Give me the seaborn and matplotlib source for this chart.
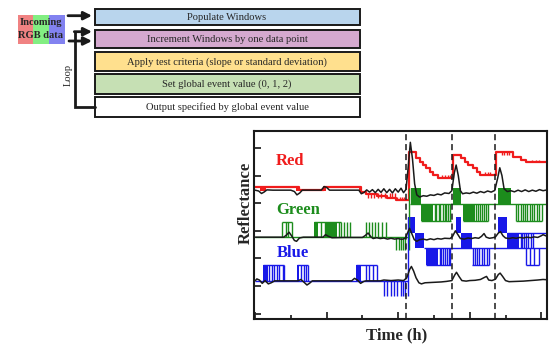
import matplotlib
matplotlib.use('Agg')
import matplotlib.pyplot as plt
from matplotlib.patches import Rectangle
import seaborn as sns
import pandas as pd

sns.set_theme(style='ticks')
plt.rcParams['font.family'] = ['Liberation Serif', 'DejaVu Serif']

RED = '#f01c1c'
GREEN = '#1c8c1c'
BLUE = '#1818e8'

# ---- flowchart text ----
steps = ['Populate Windows',
         'Increment Windows by one data point',
         'Apply test criteria (slope or standard deviation)',
         'Set global event value (0, 1, 2)',
         'Output specified by global event value']
step_colors = ['#b9d5ed', '#d5a9cf', '#ffe08e', '#c6e0b4', '#ffffff']
rgb_colors = ['#f08282', '#82ee82', '#8282f0']

# ---- chart data (time in h, reflectance offset units) ----
event_times = [4.22, 5.50, 6.71]

top_t = [0.0, 0.1, 0.18, 0.25, 0.33, 0.5, 1.0, 1.1, 1.17, 1.25, 1.32, 1.85, 1.93, 2.0, 2.08,
         2.9, 2.97, 3.05, 3.12, 3.2, 3.28, 3.36, 3.44, 3.52, 3.6, 3.68, 3.76, 3.84, 3.92, 4.0,
         4.08, 4.15, 4.22, 4.28, 4.34, 4.4, 4.46, 4.52, 4.6, 4.7, 4.8, 4.9, 5.0, 5.1, 5.2,
         5.3, 5.42, 5.5, 5.57, 5.62, 5.68, 5.74, 5.8, 5.9, 6.0, 6.1, 6.2, 6.3, 6.4, 6.5, 6.6,
         6.7, 6.78, 6.84, 6.9, 6.96, 7.05, 7.15, 7.25, 7.35, 7.45, 7.55, 7.65, 7.75, 7.85,
         7.95, 8.05, 8.16]
top_y = [4.47, 4.44, 4.35, 4.4, 4.48, 4.47, 4.47, 4.42, 4.3, 4.37, 4.47, 4.47, 4.6, 4.57, 4.47,
         4.47, 4.34, 4.39, 4.48, 4.4, 4.49, 4.38, 4.5, 4.39, 4.52, 4.38, 4.5, 4.37, 4.52, 4.4,
         4.54, 4.38, 4.5, 5.3, 6.2, 5.6, 4.7, 4.3, 4.22, 4.27, 4.25, 4.3, 4.28, 4.33, 4.3,
         4.37, 4.35, 4.45, 5.1, 5.38, 5.0, 4.45, 4.34, 4.37, 4.35, 4.4, 4.36, 4.42, 4.38,
         4.44, 4.4, 4.46, 4.9, 5.28, 5.0, 4.52, 4.42, 4.45, 4.41, 4.47, 4.42, 4.48, 4.42,
         4.47, 4.43, 4.49, 4.45, 4.48]

mid_t = [0.0, 0.8, 0.88, 0.95, 1.02, 1.1, 1.16, 1.24, 1.35, 1.9, 1.97, 2.05, 2.15, 2.5, 3.0,
         3.08, 3.16, 3.24, 3.3, 3.4, 3.5, 3.6, 3.7, 3.8, 3.9, 4.0, 4.1, 4.2, 4.26, 4.32, 4.38,
         4.45, 4.52, 4.6, 4.7, 4.8, 4.9, 5.0, 5.1, 5.2, 5.3, 5.45, 5.52, 5.6, 5.66, 5.74, 5.85,
         5.95, 6.05, 6.15, 6.25, 6.33, 6.4, 6.46, 6.55, 6.65, 6.72, 6.8, 6.86, 6.93, 7.0, 7.1,
         7.2, 7.3, 7.4, 7.5, 7.6, 7.7, 7.8, 7.9, 8.0, 8.05, 8.16]
mid_y = [2.77, 2.77, 2.85, 2.95, 2.82, 2.65, 2.62, 2.74, 2.77, 2.77, 2.86, 2.8, 2.75, 2.76, 2.76,
         2.83, 2.92, 2.78, 2.72, 2.75, 2.72, 2.74, 2.7, 2.73, 2.7, 2.72, 2.69, 2.73, 2.92, 3.09,
         2.9, 2.68, 2.62, 2.68, 2.7, 2.67, 2.71, 2.68, 2.72, 2.7, 2.73, 2.72, 2.8, 3.0, 2.88,
         2.72, 2.7, 2.74, 2.72, 2.75, 2.73, 2.8, 2.9, 2.77, 2.73, 2.75, 2.78, 2.92, 2.97, 2.82,
         2.74, 2.72, 2.75, 2.73, 2.76, 2.74, 2.77, 2.75, 2.78, 2.76, 2.82, 2.86, 2.8]

low_t = [0.0, 0.05, 0.12, 0.2, 0.28, 0.37, 0.45, 0.55, 1.2, 1.28, 1.36, 1.45, 1.52, 1.6, 2.7,
         2.78, 2.86, 2.95, 3.04, 3.1, 3.5, 3.6, 3.8, 4.0, 4.15, 4.24, 4.32, 4.37, 4.43, 4.5,
         4.58, 4.65, 4.75, 4.9, 5.05, 5.2, 5.35, 5.5, 5.58, 5.63, 5.7, 5.78, 5.9, 6.0, 6.15,
         6.3, 6.42, 6.47, 6.53, 6.62, 6.72, 6.8, 6.85, 6.92, 7.0, 7.1, 7.3, 7.5, 7.7, 7.9,
         8.05, 8.16]
low_y = [1.19, 1.26, 1.22, 1.1, 1.2, 1.08, 1.12, 1.19, 1.19, 1.24, 1.15, 1.04, 1.1, 1.19, 1.19,
         1.28, 1.22, 1.1, 1.17, 1.19, 1.19, 1.22, 1.2, 1.22, 1.2, 1.3, 1.6, 1.71, 1.55, 1.3,
         1.12, 1.08, 1.12, 1.13, 1.14, 1.15, 1.17, 1.2, 1.4, 1.5, 1.35, 1.2, 1.18, 1.2, 1.21,
         1.24, 1.32, 1.35, 1.22, 1.2, 1.25, 1.42, 1.47, 1.35, 1.2, 1.16, 1.17, 1.18, 1.2, 1.22,
         1.24, 1.23]

# red event signal (step values)
red_t = [-0.05, 1.22, 1.92, 2.97, 3.1, 3.4, 3.7, 3.95, 4.3, 4.51, 4.6, 4.7, 4.79, 4.88, 4.98,
         5.12, 5.53, 5.77, 5.86, 5.95, 6.09, 6.19, 6.28, 6.74, 7.21, 7.44, 7.58, 7.67, 8.2]
red_y = [4.6, 4.47, 4.6, 4.42, 4.33, 4.27, 4.2, 4.12, 5.86, 5.62, 5.5, 5.38, 5.26, 5.14, 5.02,
         4.92, 5.74, 5.62, 5.5, 5.38, 5.26, 5.14, 5.02, 5.86, 5.68, 5.56, 5.5, 5.48, 5.48]
red_blocks = [(0.14, 0.3, 4.45, 4.6), (1.15, 1.23, 4.45, 4.6), (1.9, 1.98, 4.45, 4.6),
              (2.9, 2.98, 4.42, 4.6)]
red_spikes = [(4.2, 4.36, [3.15, 3.24, 3.32, 3.45, 3.53, 3.62, 3.76, 3.84, 3.9]),
              (4.1, 4.24, [3.98, 4.04, 4.1, 4.16]),
              (4.92, 5.03, [5.22, 5.3, 5.38, 5.45]),
              (5.02, 5.12, [6.42, 6.5, 6.58]),
              (5.76, 5.86, [6.9, 6.97, 7.04, 7.11]),
              (5.48, 5.57, [7.75, 7.85, 7.95])]

# green event signal
green_levels = [(0.0, 4.3, 2.77), (4.33, 8.16, 3.98), (0.75, 1.03, 3.33), (1.65, 2.39, 3.33),
                (4.63, 5.47, 3.36), (5.8, 6.5, 3.36), (7.3, 8.02, 3.36)]
green_blocks = [(1.65, 1.77, 2.77, 3.33), (1.98, 2.30, 2.77, 3.33), (4.35, 4.63, 3.98, 4.54),
                (4.63, 4.98, 3.36, 3.98), (5.53, 5.76, 3.98, 4.54), (5.8, 6.14, 3.36, 3.98),
                (6.79, 7.15, 3.98, 4.54)]
green_spikes = [(2.77, 3.33, [0.75, 0.87, 0.92, 1.03, 1.83, 1.95, 2.34, 2.39, 2.48, 2.56, 2.65,
                              3.1, 3.18, 3.26, 3.35, 3.44, 3.55, 3.65]),
                (2.3, 2.77, [3.95, 4.01, 4.08, 4.14, 4.2]),
                (3.36, 3.98, [5.02, 5.07, 5.13, 5.18, 5.24, 5.3, 5.35, 5.4, 5.45, 6.18, 6.24,
                              6.29, 6.35, 6.41, 6.46, 6.5, 7.3, 7.36, 7.43, 7.48, 7.55, 7.61,
                              7.68, 7.74, 7.8, 7.88, 7.95, 8.02]),
                (2.3, 4.54, [4.3])]

# blue event signal
blue_levels = [(0.0, 4.27, 1.19), (0.23, 0.82, 1.77), (1.16, 1.47, 1.77), (2.82, 3.4, 1.77),
               (4.72, 8.16, 2.37), (7.05, 8.16, 2.91), (4.77, 5.47, 1.77), (6.07, 6.54, 1.77),
               (7.58, 7.95, 1.77)]
blue_blocks = [(0.23, 0.36, 1.19, 1.77), (1.16, 1.24, 1.19, 1.77), (2.82, 2.96, 1.19, 1.77),
               (4.28, 4.47, 2.91, 3.51), (4.47, 4.72, 2.37, 2.91), (4.77, 5.12, 1.77, 2.37),
               (5.61, 5.75, 2.91, 3.51), (5.75, 6.07, 2.37, 2.91), (6.8, 7.03, 2.91, 3.51),
               (7.05, 7.38, 2.37, 2.91)]
blue_spikes = [(1.19, 1.77, [0.40, 0.46, 0.54, 0.61, 0.68, 0.77, 0.82, 1.28, 1.36, 1.42, 1.47,
                             3.1, 3.19, 3.3, 3.4]),
               (0.63, 1.19, [3.61, 3.7, 3.8, 3.89, 3.98, 4.07, 4.13, 4.19]),
               (1.77, 2.37, [5.16, 5.21, 5.26, 5.31, 5.36, 5.41, 5.45, 6.1, 6.16, 6.21, 6.27,
                             6.33, 6.4, 6.47, 6.53, 7.58, 7.69, 7.81, 7.95]),
               (2.37, 2.91, [7.42, 7.47, 7.52, 7.57, 7.63, 7.7, 7.78]),
               (0.63, 3.51, [4.27])]

labels = [('Red', 0.58, 5.53, RED), ('Green', 0.6, 3.75, GREEN), ('Blue', 0.6, 2.21, BLUE)]

fig = plt.figure(figsize=(5.5, 3.49), dpi=100)

# ---- flowchart (pixel coordinates on an overlay) ----
fc = fig.add_axes([0, 0, 1, 1])
fc.set_xlim(0, 550)
fc.set_ylim(349, 0)
fc.axis('off')
box_tops = [9, 29.5, 51.5, 74, 96.5]
box_bottoms = [25, 47.5, 71, 94, 116.5]
for text, col, y0, y1 in zip(steps, step_colors, box_tops, box_bottoms):
    fc.add_patch(Rectangle((94.5, y0), 265.5, y1 - y0, facecolor=col,
                           edgecolor='#1a1a1a', lw=1.4))
    fc.text(227, (y0 + y1) / 2 + 0.5, text, ha='center', va='center', fontsize=7.6)

for i, col in enumerate(rgb_colors):
    fc.add_patch(Rectangle((17.5 + i * 15.7, 15), 15.7, 28.5, facecolor=col, lw=0))
fc.text(41, 22.5, 'Incoming', ha='center', va='center', fontsize=7.6, fontweight='bold')
fc.text(41, 35.5, 'RGB data', ha='center', va='center', fontsize=7.6, fontweight='bold')

arrow_kw = dict(arrowstyle='-|>', lw=2.0, color='k', mutation_scale=12, shrinkA=0, shrinkB=0)
fc.annotate('', xy=(92, 15.7), xytext=(68, 15.7), arrowprops=arrow_kw)
fc.annotate('', xy=(92, 41), xytext=(69, 41), arrowprops=arrow_kw)
fc.plot([94.5, 75, 75], [106.7, 106.7, 31.7], color='k', lw=2.0, solid_joinstyle='miter')
fc.annotate('', xy=(92, 31.7), xytext=(74.3, 31.7), arrowprops=arrow_kw)
fc.text(68.5, 75, 'Loop', rotation=90, ha='center', va='center', fontsize=7.6)

# ---- reflectance chart ----
ax = fig.add_axes([254 / 550, 30 / 349, 293 / 550, 188 / 349])

def draw_signal(levels, blocks, spikes, color):
    for t0, t1, y in levels:
        ax.hlines(y, t0, t1, color=color, lw=1.0)
    for t0, t1, y0, y1 in blocks:
        ax.fill_between([t0, t1], y0, y1, color=color, lw=0)
    for y0, y1, ts in spikes:
        ax.vlines(ts, y0, y1, color=color, lw=1.0)

draw_signal([], red_blocks, red_spikes, RED)
sns.lineplot(x=red_t, y=red_y, ax=ax, color=RED, lw=1.6, drawstyle='steps-post',
             estimator=None, sort=False)
draw_signal(green_levels, green_blocks, green_spikes, GREEN)
draw_signal(blue_levels, blue_blocks, blue_spikes, BLUE)

black = pd.concat([pd.DataFrame({'t': top_t, 'r': top_y, 'trace': 'red'}),
                   pd.DataFrame({'t': mid_t, 'r': mid_y, 'trace': 'green'}),
                   pd.DataFrame({'t': low_t, 'r': low_y, 'trace': 'blue'})])
sns.lineplot(data=black, x='t', y='r', units='trace', estimator=None, sort=False,
             color='k', lw=1.1, ax=ax)

for t in event_times:
    ax.axvline(t, color='k', lw=1.1, ls=(0, (4, 2.5)))

for name, x, y, col in labels:
    ax.text(x, y, name, color=col, fontsize=12, fontweight='bold', ha='left', va='center')

ax.set_xlim(-0.03, 8.16)
ax.set_ylim(-0.19, 6.61)
ax.set_xticks([0, 2, 4, 6, 8])
ax.set_xticks([1, 3, 5, 7], minor=True)
ax.set_yticks(range(7))
ax.tick_params(which='both', direction='in', labelleft=False, labelbottom=False, width=1.3)
ax.tick_params(which='major', length=5)
ax.tick_params(which='minor', length=3)
ax.set_xlabel('')
ax.set_ylabel('')
for s in ax.spines.values():
    s.set_linewidth(1.5)
    s.set_color('k')

fig.text(246 / 550, 1 - 203 / 349, 'Reflectance', rotation=90, ha='center', va='center',
         fontsize=12, fontweight='bold')
fig.text(397 / 550, 1 - 335 / 349, 'Time (h)', ha='center', va='center',
         fontsize=12, fontweight='bold')

fig.savefig('out.png', dpi=100)
